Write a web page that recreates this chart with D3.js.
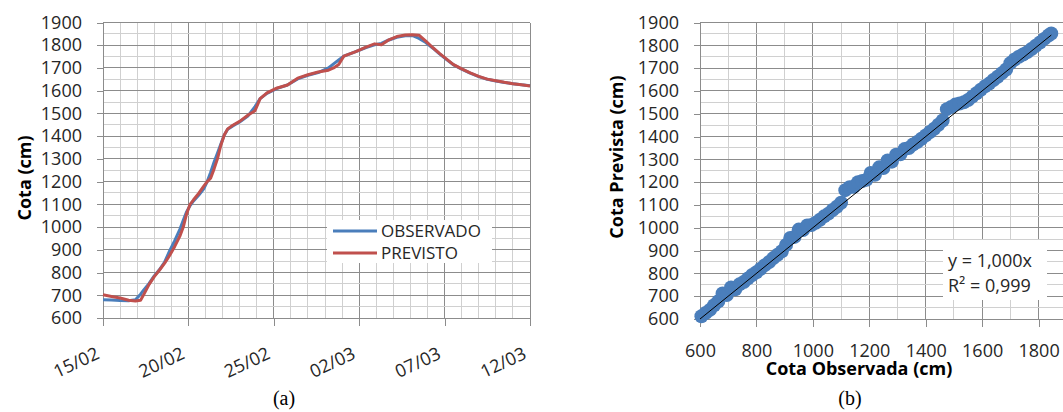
<!DOCTYPE html>
<html>
<head>
<meta charset="utf-8">
<script src="https://cdn.jsdelivr.net/npm/d3@7"></script>
<style>
  body { margin: 0; background: #fff; }
  svg { display: block; font-family: "Open Sans", sans-serif; }
  .grid-maior { stroke: #8c8c8c; stroke-width: 1; shape-rendering: crispEdges; }
  .grid-menor { stroke: #d0d0d0; stroke-width: 1; shape-rendering: crispEdges; }
  .eixo path, .eixo line { stroke: #8c8c8c; shape-rendering: crispEdges; }
  .eixo text { font-size: 18px; fill: #262626; font-family: "Open Sans", sans-serif; }
  .titulo { font-size: 18px; font-weight: bold; fill: #000; }
</style>
</head>
<body>
<div id="chart"></div>
<script>
// (a) serie temporal: dias desde 15/02
const dias = [0, 0.5, 1, 1.5, 1.9, 2.2, 2.4, 2.7, 3.0, 3.3, 3.6, 3.9, 4.2, 4.5, 4.7, 4.9, 5.1, 5.3, 5.6, 5.9,
  6.1, 6.3, 6.5, 6.7, 6.9, 7.1, 7.3, 7.6, 8.0, 8.5, 8.9, 9.2, 9.6, 10.2, 10.8, 11.4, 12.0, 12.6, 13.2, 13.5,
  13.8, 14.1, 14.8, 15.4, 15.9, 16.3, 16.7, 17.2, 17.7, 18.1, 18.5, 18.9, 19.3, 19.7, 20.1, 20.5, 21.0, 21.5,
  22.0, 22.5, 23.0, 23.5, 24.0, 24.5, 25];
const observado = [680, 679, 677, 676, 680, 705, 725, 752, 785, 812, 845, 895, 940, 990, 1030, 1068, 1095, 1115, 1140, 1168,
  1200, 1240, 1285, 1325, 1365, 1405, 1430, 1445, 1462, 1490, 1530, 1565, 1588, 1610, 1625, 1652, 1668, 1680, 1700, 1718,
  1735, 1752, 1772, 1790, 1802, 1808, 1822, 1835, 1842, 1843, 1830, 1812, 1788, 1762, 1738, 1715, 1695, 1677,
  1662, 1650, 1643, 1636, 1631, 1626, 1622];
const previsto = [702, 695, 688, 678, 675, 678, 705, 748, 782, 810, 840, 875, 915, 960, 1000, 1060, 1100, 1120, 1148, 1180,
  1200, 1215, 1255, 1300, 1360, 1405, 1432, 1448, 1465, 1493, 1512, 1565, 1590, 1612, 1625, 1655, 1670, 1682, 1690, 1700,
  1715, 1752, 1772, 1792, 1806, 1802, 1822, 1838, 1845, 1846, 1844, 1818, 1790, 1764, 1740, 1716, 1696, 1678,
  1663, 1651, 1644, 1637, 1631, 1626, 1621];
const diasTicks = [0, 5, 10, 15, 20, 25];

// (b) dispersao: cota observada x cota prevista
const cotaObs = [605, 620, 635, 650, 665, 680, 695, 710, 725, 740, 755, 770, 785, 800, 815, 830, 845, 860, 875, 890,
  905, 920, 935, 950, 965, 980, 995, 1010, 1025, 1040, 1055, 1070, 1085, 1100, 1115, 1130, 1145, 1160, 1175, 1190,
  1205, 1220, 1235, 1250, 1265, 1280, 1295, 1310, 1325, 1340, 1355, 1370, 1385, 1400, 1415, 1430, 1445, 1460, 1475,
  1490, 1505, 1520, 1535, 1550, 1565, 1580, 1595, 1610, 1625, 1640, 1655, 1670, 1685, 1700, 1715, 1730, 1745, 1760,
  1775, 1790, 1805, 1820, 1835, 1845];
const cotaPrev = [612, 626, 640, 660, 678, 712, 705, 738, 730, 752, 762, 778, 793, 805, 820, 836, 850, 867, 882, 897,
  925, 955, 960, 992, 990, 1010, 1012, 1022, 1035, 1050, 1062, 1078, 1092, 1110, 1165, 1178, 1180, 1200, 1205, 1210,
  1240, 1232, 1265, 1262, 1295, 1290, 1320, 1322, 1345, 1350, 1365, 1376, 1390, 1405, 1420, 1434, 1452, 1470, 1520,
  1530, 1540, 1545, 1550, 1560, 1575, 1590, 1605, 1620, 1632, 1648, 1662, 1678, 1694, 1722, 1738, 1750, 1760, 1770,
  1784, 1798, 1812, 1828, 1843, 1852];
const cotaTicksX = [600, 800, 1000, 1200, 1400, 1600, 1800];
const cotaTicksY = d3.range(600, 1901, 100);

const azul = '#4a7ebb', vermelho = '#c0504d';
const inicio = Date.UTC(2014, 1, 15);
const dia = d => new Date(inicio + d * 86400000);
const fmt = d3.format('d');

let svg = d3.select('#chart').append('svg')
  .attr('width', 1063)
  .attr('height', 412);

// ---------- (a) ----------
let xA = d3.scaleUtc().domain([dia(0), dia(25)]).range([103, 530]);
let yA = d3.scaleLinear().domain([600, 1900]).range([318, 22.5]);

let gA = svg.append('g');
gA.selectAll('.gv').data(d3.range(0, 26)).enter().append('line')
  .attr('class', d => d % 5 === 0 ? 'grid-maior' : 'grid-menor')
  .attr('x1', d => xA(dia(d))).attr('x2', d => xA(dia(d)))
  .attr('y1', yA(600)).attr('y2', yA(1900));
gA.selectAll('.gh').data(d3.range(650, 1901, 50)).enter().append('line')
  .attr('class', d => d % 100 === 0 ? 'grid-maior' : 'grid-menor')
  .attr('x1', xA.range()[0]).attr('x2', xA.range()[1])
  .attr('y1', d => yA(d)).attr('y2', d => yA(d));

gA.append('g').attr('class', 'eixo')
  .attr('transform', 'translate(103,0)')
  .call(d3.axisLeft(yA).tickValues(cotaTicksY).tickFormat(fmt).tickSize(6).tickPadding(15).tickSizeOuter(0));

gA.append('g').attr('class', 'eixo')
  .attr('transform', 'translate(0,318)')
  .call(d3.axisBottom(xA).tickValues(diasTicks.map(dia)).tickFormat(d3.utcFormat('%d/%m')).tickSize(8).tickSizeOuter(0))
  .selectAll('text')
  .attr('y', 0).attr('dy', 0)
  .style('text-anchor', 'end')
  .attr('transform', 'translate(-3,40) rotate(-25)');

let linha = serie => d3.line()
  .x((d, i) => xA(dia(dias[i])))
  .y(d => yA(d))(serie);

gA.append('path').attr('d', linha(observado))
  .attr('fill', 'none').attr('stroke', azul).attr('stroke-width', 3).attr('stroke-linejoin', 'round');
gA.append('path').attr('d', linha(previsto))
  .attr('fill', 'none').attr('stroke', vermelho).attr('stroke-width', 3).attr('stroke-linejoin', 'round');

gA.append('text').attr('class', 'titulo')
  .attr('transform', 'translate(31,178) rotate(-90)')
  .style('text-anchor', 'middle')
  .text('Cota (cm)');

// legenda
let leg = gA.append('g').attr('transform', 'translate(327,220)');
leg.append('rect').attr('width', 165).attr('height', 43).attr('fill', '#fff');
[['OBSERVADO', azul], ['PREVISTO', vermelho]].forEach(function (d, i) {
  leg.append('line')
    .attr('x1', 6).attr('x2', 50)
    .attr('y1', 11 + i * 22).attr('y2', 11 + i * 22)
    .attr('stroke', d[1]).attr('stroke-width', 3);
  leg.append('text')
    .attr('x', 54).attr('y', 17 + i * 22)
    .attr('font-size', 17).attr('fill', '#262626')
    .text(d[0]);
});

svg.append('text')
  .attr('x', 284).attr('y', 405)
  .attr('font-family', '"Liberation Serif", serif').attr('font-size', 20)
  .style('text-anchor', 'middle')
  .text('(a)');

// ---------- (b) ----------
let xB = d3.scaleLinear().domain([600, 1900]).range([700, 1066.8]);
let yB = d3.scaleLinear().domain([600, 1900]).range([319, 22.5]);

let gB = svg.append('g');
gB.selectAll('.gv').data(d3.range(700, 1901, 100)).enter().append('line')
  .attr('class', d => d % 200 === 0 ? 'grid-maior' : 'grid-menor')
  .attr('x1', d => xB(d)).attr('x2', d => xB(d))
  .attr('y1', yB(600)).attr('y2', yB(1900));
gB.selectAll('.gh').data(d3.range(650, 1901, 50)).enter().append('line')
  .attr('class', d => d % 100 === 0 ? 'grid-maior' : 'grid-menor')
  .attr('x1', xB.range()[0]).attr('x2', xB.range()[1])
  .attr('y1', d => yB(d)).attr('y2', d => yB(d));

gB.append('g').attr('class', 'eixo')
  .attr('transform', 'translate(700,0)')
  .call(d3.axisLeft(yB).tickValues(cotaTicksY).tickFormat(fmt).tickSize(6).tickPadding(15).tickSizeOuter(0));

gB.append('g').attr('class', 'eixo')
  .attr('transform', 'translate(0,319)')
  .call(d3.axisBottom(xB).tickValues(cotaTicksX).tickFormat(fmt).tickSize(8).tickSizeOuter(0))
  .selectAll('text')
  .attr('y', 38).attr('dy', 0);

gB.selectAll('.ponto').data(cotaObs).enter().append('circle')
  .attr('cx', d => xB(d))
  .attr('cy', (d, i) => yB(cotaPrev[i]))
  .attr('r', 7)
  .attr('fill', azul);

// linha de tendencia y = 1,000x
gB.append('line')
  .attr('x1', xB(600)).attr('y1', yB(600))
  .attr('x2', xB(1845)).attr('y2', yB(1845))
  .attr('stroke', '#000').attr('stroke-width', 1);

gB.append('text').attr('class', 'titulo')
  .attr('transform', 'translate(623,157) rotate(-90)')
  .style('text-anchor', 'middle')
  .text('Cota Prevista (cm)');

gB.append('text').attr('class', 'titulo')
  .attr('x', 859).attr('y', 375)
  .style('text-anchor', 'middle')
  .text('Cota Observada (cm)');

let eq = gB.append('g').attr('transform', 'translate(943,240)');
eq.append('rect').attr('width', 104).attr('height', 60).attr('fill', '#fff');
eq.append('text').attr('x', 5).attr('y', 27).attr('font-size', 18).attr('fill', '#262626').text('y = 1,000x');
eq.append('text').attr('x', 5).attr('y', 52).attr('font-size', 18).attr('fill', '#262626').text('R² = 0,999');

svg.append('text')
  .attr('x', 850).attr('y', 405)
  .attr('font-family', '"Liberation Serif", serif').attr('font-size', 20)
  .style('text-anchor', 'middle')
  .text('(b)');
</script>
</body>
</html>
